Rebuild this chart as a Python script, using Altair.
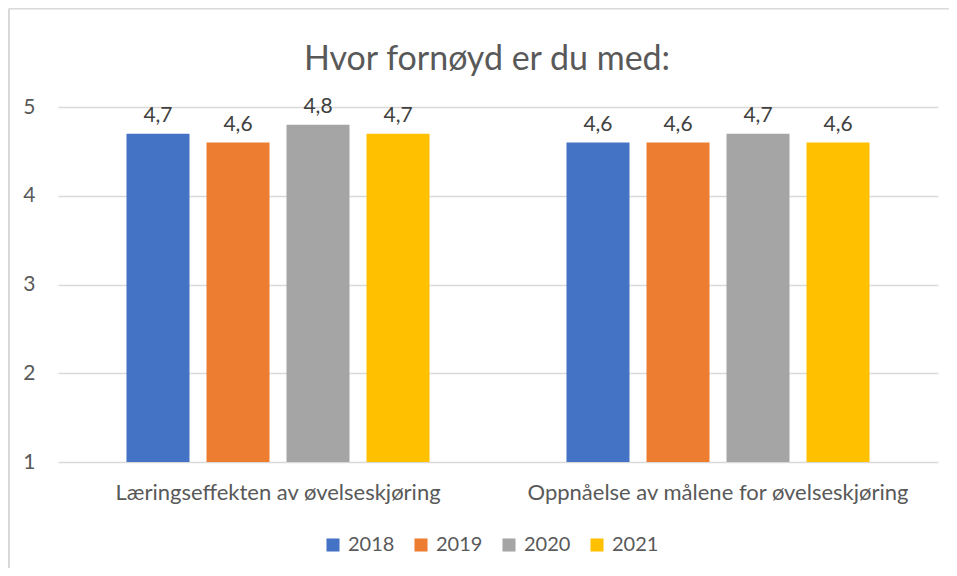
import altair as alt
import pandas as pd

categories = ["Læringseffekten av øvelseskjøring", "Oppnåelse av målene for øvelseskjøring"]
years = ["2018", "2019", "2020", "2021"]
values_2018 = [4.7, 4.6]
values_2019 = [4.6, 4.6]
values_2020 = [4.8, 4.7]
values_2021 = [4.7, 4.6]
colors = ["#4472C4", "#ED7D31", "#A5A5A5", "#FFC000"]
title_text = "Hvor fornøyd er du med:"

series = {"2018": values_2018, "2019": values_2019, "2020": values_2020, "2021": values_2021}
rows = []
for y in years:
    for c, v in zip(categories, series[y]):
        rows.append({"category": c, "year": y, "value": v})
df = pd.DataFrame(rows)

FONT = "Lato"
W, H = 880, 355

base = alt.Chart(df).transform_calculate(
    label="replace(format(datum.value, '.1f'), '.', ',')",
    base="1",
)

x = alt.X("category:N", sort=categories, title=None,
          scale=alt.Scale(paddingInner=0, paddingOuter=0),
          axis=alt.Axis(labelAngle=0, labelFontSize=22, labelColor="#595959",
                        labelFont=FONT, labelPadding=20, domain=False, ticks=False,
                        labelLimit=500))
xo = alt.XOffset("year:N", sort=years,
                 scale=alt.Scale(paddingInner=0.2125, paddingOuter=0.856))

bars = base.mark_bar().encode(
    x=x,
    xOffset=xo,
    y=alt.Y("value:Q", title=None,
            scale=alt.Scale(domain=[1, 5], zero=False, nice=False),
            axis=alt.Axis(values=[1, 2, 3, 4, 5], format="d", labelFontSize=21,
                          labelColor="#595959",
                          labelFont=FONT, labelPadding=23, domain=False, ticks=False,
                          gridColor="#D9D9D9", gridWidth=1.3)),
    y2=alt.Y2("base:Q"),
    color=alt.Color("year:N", sort=years,
                    scale=alt.Scale(domain=years, range=colors),
                    legend=alt.Legend(title=None, orient="none", direction="horizontal",
                                      legendX=265, legendY=428,
                                      symbolType="square", symbolSize=170,
                                      symbolStrokeWidth=0,
                                      labelFontSize=20, labelColor="#595959", labelFont=FONT,
                                      columnPadding=16, labelOffset=5)),
)

labels = base.mark_text(baseline="bottom", dy=-8, fontSize=21, color="#404040",
                        font=FONT).encode(
    x=x,
    xOffset=xo,
    y=alt.Y("value:Q"),
    text="label:N",
)

one = alt.Data(values=[{"t": title_text}])
title = alt.Chart(one).mark_text(fontSize=34, font=FONT, color="#595959",
                                 baseline="alphabetic", align="center").encode(
    x=alt.value(W / 2 - 11), y=alt.value(-37), text="t:N")

border_left = alt.Chart(one).mark_rule(color="#D9D9D9", strokeWidth=2).encode(
    x=alt.value(-49), y=alt.value(-98.5), y2=alt.value(H + 200))
border_top = alt.Chart(one).mark_rule(color="#D9D9D9", strokeWidth=2).encode(
    x=alt.value(-49), x2=alt.value(W + 100), y=alt.value(-98.5))

chart = alt.layer(border_left, border_top, bars, labels, title).properties(
    width=W, height=H,
    padding={"left": 50, "top": 99, "right": 11, "bottom": 106},
    autosize=alt.AutoSizeParams(type="none"),
).configure(background="white").configure_view(stroke=None)

chart.save("out.html", embed_options={"renderer": "svg", "actions": False})
